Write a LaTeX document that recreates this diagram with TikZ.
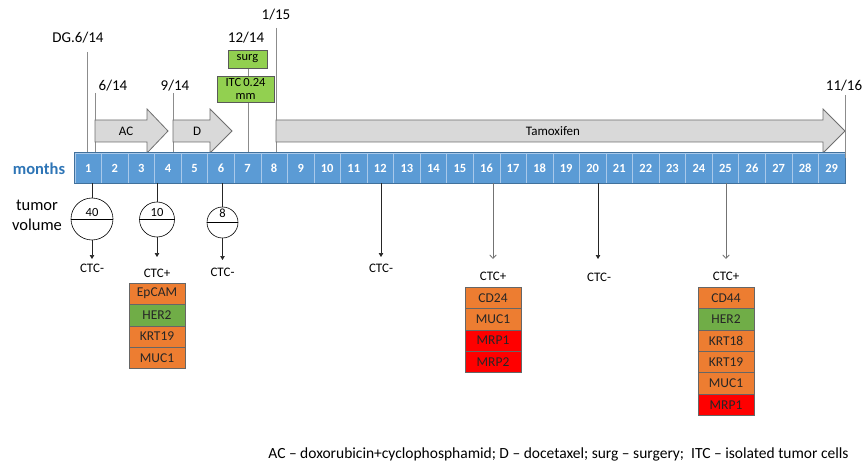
\documentclass[tikz,border=0pt]{standalone}
\usepackage{fontspec}
\setmainfont{Carlito}
\usetikzlibrary{arrows.meta}

\definecolor{barblue}{HTML}{5B9BD5}
\definecolor{barline}{HTML}{41719C}
\definecolor{cellsep}{HTML}{A9C9EA}
\definecolor{monthsblue}{HTML}{2E75B6}
\definecolor{mkorange}{HTML}{ED7D31}
\definecolor{mkgreen}{HTML}{70AD47}
\definecolor{mkred}{HTML}{FF0000}
\definecolor{boxgreen}{HTML}{92D050}
\definecolor{arrowfill}{HTML}{D9D9D9}
\definecolor{arrowedge}{HTML}{6F6F6F}
\definecolor{dategray}{HTML}{8C8C8C}

\tikzset{
  monthcell/.style={rectangle, fill=barblue, draw=cellsep, line width=0.6pt,
    minimum width=26.55pt, minimum height=30pt, inner sep=0pt,
    text=white, font=\fontsize{12.5}{14}\selectfont\bfseries},
  datelabel/.style={inner sep=0pt, font=\fontsize{15}{17}\selectfont},
  dateline/.style={draw=dategray, line width=0.9pt},
  blockarrow/.style={fill=arrowfill, draw=arrowedge, line width=0.8pt},
  arrowtext/.style={inner sep=0pt, font=\fontsize{13}{15}\selectfont},
  greenbox/.style={rectangle, fill=boxgreen, draw=black!65, line width=0.7pt,
    inner sep=0pt, font=\fontsize{12.5}{13.5}\selectfont, align=center},
  volcircle/.style={circle, draw=black, fill=white, line width=0.6pt, inner sep=0pt},
  voltext/.style={inner sep=0pt, font=\fontsize{12.5}{14}\selectfont},
  ctctext/.style={inner sep=0pt, font=\fontsize{13}{14}\selectfont},
  linkline/.style={draw=black!85, line width=0.7pt},
  ctcarrow/.style={draw=black!85, line width=0.7pt, -{Triangle[length=4pt,width=4.5pt]}},
  ctcopen/.style={draw=black!55, line width=0.8pt, -{Straight Barb[length=3.5pt,width=6.5pt]}},
  marker/.style={rectangle, draw=black!60, line width=0.6pt, minimum width=56pt,
    minimum height=21.4pt, inner sep=0pt, text=black!85,
    font=\fontsize{13.5}{15}\selectfont},
}

\begin{document}
\begin{tikzpicture}[x=1pt,y=-1pt]
\useasboundingbox[fill=white] (0,0) rectangle (864,465);

% ---- date markers above the time line ----
\node[datelabel] (dg)   at (78,38)  {DG.6/14};
\node[datelabel] (d614) at (113,86) {6/14};
\node[datelabel] (d914) at (175,86) {9/14};
\node[datelabel] (d1214) at (246,38) {12/14};
\node[datelabel] (d115) at (276,15) {1/15};
\node[datelabel] (d1116) at (844,86) {11/16};

\coordinate (dgA) at (87,52);    \coordinate (dgB) at (87,153);
\coordinate (acA) at (95,93);    \coordinate (acB) at (95,153);
\coordinate (dA)  at (173,93);   \coordinate (dB)  at (173,153);
\coordinate (sgA) at (248,68);   \coordinate (sgB) at (248,153);
\coordinate (tmA) at (276,28);   \coordinate (tmB) at (276,153);
\coordinate (enA) at (845,95);   \coordinate (enB) at (845,158);

\draw[dateline] (dgA) -- (dgB);
\draw[dateline] (acA) -- (acB);
\draw[dateline] (dA) -- (dB);
\draw[dateline] (sgA) -- (sgB);
\draw[dateline] (tmA) -- (tmB);

% ---- therapy arrows ----
\draw[blockarrow] (95,120) -- (147,120) -- (147,109) -- (168,131)
  -- (147,153) -- (147,142) -- (95,142) -- cycle;
\node[arrowtext] (acl) at (126,131) {AC};
\draw[blockarrow] (173,120) -- (210,120) -- (210,109) -- (232,131)
  -- (210,153) -- (210,142) -- (173,142) -- cycle;
\node[arrowtext] (dl) at (197,131) {D};
\draw[blockarrow] (276,120) -- (823,120) -- (823,109) -- (845,131)
  -- (823,153) -- (823,142) -- (276,142) -- cycle;
\node[arrowtext] (tml) at (553,131) {Tamoxifen};

% ---- surgery boxes ----
\node[greenbox, minimum width=39pt, minimum height=18pt] (surg) at (247.5,59) {surg};
\node[greenbox, minimum width=57pt, minimum height=26pt] (itc) at (245.5,89)
  {ITC\,0.24\\mm};

% ---- month bar ----
\foreach \k in {1,...,29}
  \node[monthcell] (m\k) at ({75+(\k-0.5)*26.55},168) {\k};
\draw[barline, line width=0.8pt] (m1.north west) rectangle (m29.south east);
\draw[dateline] (enA) -- (enB);

\node[inner sep=0pt, text=monthsblue, font=\fontsize{16.5}{18}\selectfont\bfseries]
  (months) at (39,169) {months};
\node[inner sep=0pt, align=center, font=\fontsize{16.5}{20}\selectfont]
  (tumvol) at (37,215) {tumor\\volume};

% ---- tumour volume circles ----
\node[volcircle, minimum size=42pt] (c1) at (92,219) {};
\node[volcircle, minimum size=35pt] (c2) at (157,219.5) {};
\node[volcircle, minimum size=31pt] (c3) at (222.5,222.5) {};
\foreach \c in {c1,c2,c3}
  \draw[line width=0.6pt] (\c.west) -- (\c.east);
\node[voltext] (v1) at (92,212) {40};
\node[voltext] (v2) at (157,212) {10};
\node[voltext] (v3) at (222.5,213) {8};

\draw[linkline] (m1.south -| c1) -- (c1.north);
\draw[linkline] (m4.south -| c2) -- (c2.north);
\draw[linkline] (m6.south -| c3) -- (c3.north);

\coordinate (t1) at (92,259);
\coordinate (t2) at (157,257);
\coordinate (t3) at (222.5,260);
\draw[ctcarrow] (c1.south) -- (t1);
\draw[ctcarrow] (c2.south) -- (t2);
\draw[ctcarrow] (c3.south) -- (t3);
\node[ctctext] (k1) at (92,268) {CTC-};
\node[ctctext] (k2) at (157,273) {CTC+};
\node[ctctext] (k3) at (222.5,272) {CTC-};

% ---- later blood samples ----
\coordinate (t12) at (381,257);
\coordinate (t16) at (493,259);
\coordinate (t20) at (598,259);
\coordinate (t25) at (726,259);
\draw[ctcarrow] (m12.south -| t12) -- (t12);
\draw[ctcopen]  (m16.south -| t16) -- (t16);
\draw[ctcarrow] (m20.south -| t20) -- (t20);
\draw[ctcopen]  (m25.south -| t25) -- (t25);
\node[ctctext] (k12) at (381,268) {CTC-};
\node[ctctext] (k16) at (493,276) {CTC+};
\node[ctctext] (k20) at (599,277) {CTC-};
\node[ctctext] (k25) at (726,276) {CTC+};

% ---- marker panels ----
\node[marker, fill=mkorange] (pa1) at (157,293.7) {EpCAM};
\node[marker, fill=mkgreen]  (pa2) at (157,315.1) {HER2};
\node[marker, fill=mkorange] (pa3) at (157,336.5) {KRT19};
\node[marker, fill=mkorange] (pa4) at (157,357.9) {MUC1};

\node[marker, fill=mkorange] (pb1) at (493,297.7) {CD24};
\node[marker, fill=mkorange] (pb2) at (493,319.1) {MUC1};
\node[marker, fill=mkred]    (pb3) at (493,340.5) {MRP1};
\node[marker, fill=mkred]    (pb4) at (493,361.9) {MRP2};

\node[marker, fill=mkorange] (pc1) at (726,297.7) {CD44};
\node[marker, fill=mkgreen]  (pc2) at (726,319.1) {HER2};
\node[marker, fill=mkorange] (pc3) at (726,340.5) {KRT18};
\node[marker, fill=mkorange] (pc4) at (726,361.9) {KRT19};
\node[marker, fill=mkorange] (pc5) at (726,383.3) {MUC1};
\node[marker, fill=mkred]    (pc6) at (726,404.7) {MRP1};

% ---- abbreviations ----
\node[inner sep=0pt, font=\fontsize{15.5}{17}\selectfont] (legend) at (558.5,454)
  {AC -- doxorubicin+cyclophosphamid; D -- docetaxel; surg -- surgery;\ \ ITC -- isolated tumor cells};
\end{tikzpicture}
\end{document}
